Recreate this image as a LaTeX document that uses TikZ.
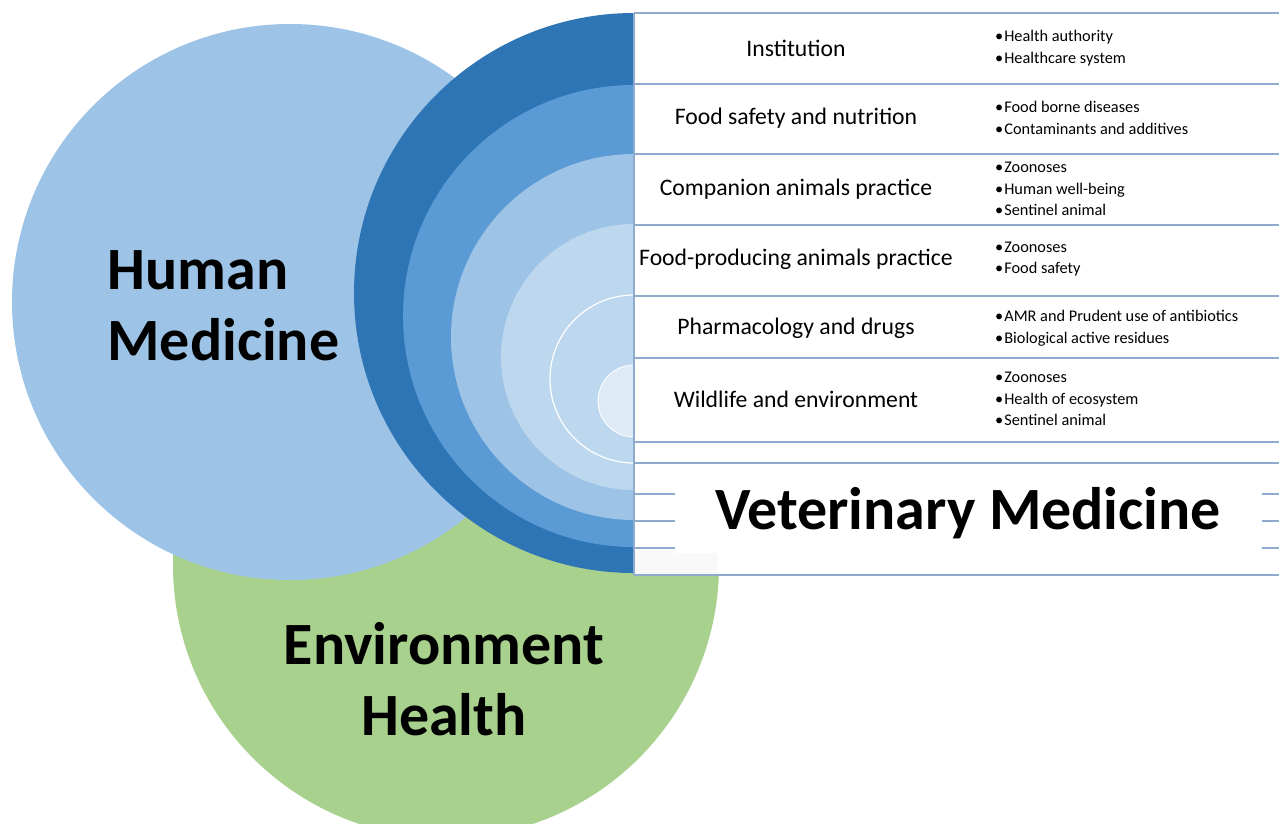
\documentclass[tikz,border=0pt]{standalone}
\usepackage{fontspec}
\setmainfont{Carlito}

\definecolor{hmblue}{HTML}{9DC3E6}
\definecolor{envgreen}{HTML}{A9D18E}
\definecolor{ringa}{HTML}{2E75B6}
\definecolor{ringb}{HTML}{5B9BD5}
\definecolor{ringc}{HTML}{9DC3E6}
\definecolor{ringd}{HTML}{BDD7EE}
\definecolor{ringe}{HTML}{DEEBF7}
\definecolor{gridline}{HTML}{8EAACC}

\tikzset{
  bigtext/.style={font=\fontsize{60}{71}\selectfont\bfseries},
  rowtext/.style={font=\fontsize{23.7}{28}\selectfont},
  itemtext/.style={font=\fontsize{16.3}{21.5}\selectfont, align=left, anchor=west, inner sep=0pt},
  tabline/.style={draw=gridline, line width=1.2pt}
}
\newcommand{\itm}{•\hspace{1pt}}

\begin{document}
\begin{tikzpicture}[x=1pt,y=-1pt]
  \useasboundingbox (0,0) rectangle (1279,823);

  % Environment health circle (behind)
  \fill[envgreen] (446,565) circle [radius=273pt];
  % Human medicine circle
  \fill[hmblue] (290,302) circle [radius=278pt];

  % Veterinary rings, shrinking towards the table
  \fill[ringa] (634,293) circle [radius=280pt];
  \fill[ringb] (634,316) circle [radius=231pt];
  \fill[ringc] (634,337) circle [radius=183pt];
  \fill[ringd] (634,357) circle [radius=133pt];
  \filldraw[fill=ringd, draw=white, line width=1.2pt] (634,379) circle [radius=84pt];
  \filldraw[fill=ringe, draw=white, line width=0.8pt] (634,401) circle [radius=36pt];

  % Table hides the right half of the rings
  \fill[white] (634,13) rectangle (1279,575);
  \fill[gray!5] (634,550) rectangle (718,575);
  \foreach \y in {13,84,154,225,296,358,442,463,494,521,548,575} {
    \draw[tabline] (634,\y) -- (1279,\y);
  }
  \draw[tabline] (634,13) -- (634,575);

  % Rows of the table
  \node[rowtext] (inst) at (796,48) {Institution};
  \node[itemtext] (institems) at (995,48) {\itm Health authority\\\itm Healthcare system};
  \node[rowtext] (food) at (796,118) {Food safety and nutrition};
  \node[itemtext] (fooditems) at (995,118) {\itm Food borne diseases\\\itm Contaminants and additives};
  \node[rowtext] (comp) at (796,189) {Companion animals practice};
  \node[itemtext] (compitems) at (995,189) {\itm Zoonoses\\\itm Human well-being\\\itm Sentinel animal};
  \node[rowtext] (prod) at (796,259) {Food-producing animals practice};
  \node[itemtext] (proditems) at (995,259) {\itm Zoonoses\\\itm Food safety};
  \node[rowtext] (pharm) at (796,328) {Pharmacology and drugs};
  \node[itemtext] (pharmitems) at (995,328) {\itm AMR and Prudent use of antibiotics\\\itm Biological active residues};
  \node[rowtext] (wild) at (796,399) {Wildlife and environment};
  \node[itemtext] (wilditems) at (995,399) {\itm Zoonoses\\\itm Health of ecosystem\\\itm Sentinel animal};

  % Big labels
  \node[bigtext, fill=white, minimum width=587pt, minimum height=80pt, inner sep=0pt] (vet) at (968,513) {Veterinary Medicine};
  \node[bigtext, align=left, anchor=west] (human) at (104,306) {Human\\Medicine};
  \node[bigtext, align=center] (env) at (444,679) {Environment\\Health};
\end{tikzpicture}
\end{document}
